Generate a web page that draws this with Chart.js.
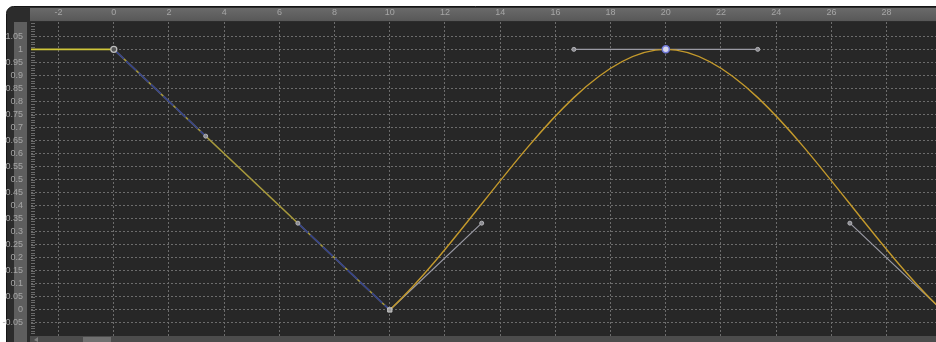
<!DOCTYPE html>
<html>
<head>
<meta charset="utf-8">
<script src="https://cdn.jsdelivr.net/npm/chart.js@4/dist/chart.umd.min.js"></script>
<style>
  html, body { margin: 0; padding: 0; background: #ffffff; overflow: hidden; }
  canvas { display: block; }
</style>
</head>
<body>
<canvas id="chart" width="936" height="342"></canvas>
<script>
// tick labels
const xTicks = [-2, 0, 2, 4, 6, 8, 10, 12, 14, 16, 18, 20, 22, 24, 26, 28];
const yTicks = [-0.05, 0, 0.05, 0.1, 0.15, 0.2, 0.25, 0.3, 0.35, 0.4, 0.45, 0.5,
	0.55, 0.6, 0.65, 0.7, 0.75, 0.8, 0.85, 0.9, 0.95, 1, 1.05];

// curve segments
const holdX = [-3, 0];
const holdY = [1, 1];
const linearX = [0, 10];
const linearY = [1, 0];
const easeX = [10, 20, 30];
const easeY = [0, 1, 0];

// keys and tangent handles
const keyX = [0, 10, 20];
const keyY = [1, 0, 1];
const handleX = [3.33, 6.67, 13.33, 16.67, 23.33, 26.67];
const handleY = [0.667, 0.333, 0.333, 1, 1, 0.333];
// tangent lines: [x1, y1, x2, y2]
const blueTangents = [[0, 1, 3.33, 0.667], [6.67, 0.333, 10, 0]];
const grayTangents = [[10, 0, 13.33, 0.333], [16.67, 1, 23.33, 1], [26.67, 0.333, 30, 0]];

const toPoints = (xs, ys) => xs.map((x, i) => ({ x, y: ys[i] }));
const segPoints = (segs) => {
	const pts = [];
	segs.forEach((s) => {
		pts.push({ x: s[0], y: s[1] }, { x: s[2], y: s[3] }, { x: s[2], y: null });
	});
	return pts;
};

const frame = {
	id: "frame",
	beforeDraw(chart) {
		const ctx = chart.ctx;
		const a = chart.chartArea;
		ctx.save();
		ctx.fillStyle = "#ffffff";
		ctx.fillRect(0, 0, chart.width, chart.height);
		// outer dark frame
		ctx.fillStyle = "#2c2c2c";
		ctx.strokeStyle = "#161616";
		ctx.beginPath();
		ctx.roundRect(6.5, 6.5, chart.width + 10, chart.height + 10, 7);
		ctx.fill();
		ctx.stroke();
		// top ruler
		const g = ctx.createLinearGradient(0, 8, 0, 21);
		g.addColorStop(0, "#6a6a6a");
		g.addColorStop(1, "#585858");
		ctx.fillStyle = g;
		ctx.fillRect(a.left - 1, 8, chart.width, 13);
		// left ruler
		ctx.fillStyle = "#5e5e5e";
		ctx.fillRect(14, a.top, 13, chart.height - a.top);
		// plot background
		ctx.fillStyle = "#272727";
		ctx.fillRect(a.left - 1, a.top, a.right - a.left + 1, a.bottom - a.top);
		// bottom scroll bar
		ctx.fillStyle = "#4c4c4c";
		ctx.fillRect(a.left - 1, a.bottom, chart.width, chart.height - a.bottom);
		ctx.fillStyle = "#707070";
		ctx.fillRect(83, a.bottom + 1, 28, chart.height - a.bottom);
		ctx.fillStyle = "#808080";
		ctx.beginPath();
		ctx.moveTo(34, a.bottom + 4);
		ctx.lineTo(38, a.bottom + 1);
		ctx.lineTo(38, a.bottom + 6);
		ctx.fill();
		ctx.restore();
	},
	beforeDatasetsDraw(chart) {
		// minor tick strip on the left edge
		const ctx = chart.ctx;
		const y = chart.scales.y;
		const a = chart.chartArea;
		ctx.save();
		ctx.strokeStyle = "#6a6a6a";
		ctx.lineWidth = 1;
		for (let v = -10; v <= 110; v++) {
			const py = Math.round(y.getPixelForValue(v / 100)) + 0.5;
			if (py < a.top || py > a.bottom) continue;
			ctx.beginPath();
			ctx.moveTo(a.left, py);
			ctx.lineTo(a.left + 4, py);
			ctx.stroke();
		}
		ctx.restore();
	},
};

const tickFont = { family: "Liberation Sans", size: 9 };
const noPad = (scale) => {
	scale.paddingLeft = 0;
	scale.paddingRight = 0;
	scale.paddingTop = 0;
	scale.paddingBottom = 0;
};

new Chart(document.getElementById("chart"), {
	type: "line",
	data: {
		datasets: [
			{
				// selected key
				data: [{ x: keyX[2], y: keyY[2] }],
				showLine: false,
				pointStyle: "circle",
				pointRadius: 3.5,
				pointBorderWidth: 1.5,
				pointBorderColor: "#6f78d8",
				pointBackgroundColor: "#d8d8ee",
			},
			{
				data: [{ x: keyX[1], y: keyY[1] }],
				showLine: false,
				pointStyle: "rect",
				pointRadius: 3,
				pointBorderWidth: 1,
				pointBorderColor: "#c8c8c8",
				pointBackgroundColor: "#9a9a9a",
			},
			{
				data: [{ x: keyX[0], y: keyY[0] }],
				showLine: false,
				pointStyle: "circle",
				pointRadius: 3,
				pointBorderWidth: 1.3,
				pointBorderColor: "#bdbdbd",
				pointBackgroundColor: "#555555",
			},
			{
				data: toPoints(handleX, handleY),
				showLine: false,
				pointStyle: "circle",
				pointRadius: 2,
				pointBorderWidth: 1,
				pointBorderColor: "#b4b4b8",
				pointBackgroundColor: "#8a8a90",
			},
			{
				data: segPoints(blueTangents),
				borderColor: "#34428c",
				borderWidth: 1.7,
				borderDash: [14, 3],
				pointRadius: 0,
				spanGaps: false,
			},
			{
				data: toPoints(easeX, easeY),
				borderColor: "#c49a2c",
				borderWidth: 1.4,
				cubicInterpolationMode: "monotone",
				pointRadius: 0,
			},
			{
				data: segPoints(grayTangents),
				borderColor: "#9a9aa4",
				borderWidth: 1.2,
				pointRadius: 0,
				spanGaps: false,
			},
			{
				data: toPoints(linearX, linearY),
				borderColor: "#a89a3c",
				borderWidth: 1.5,
				pointRadius: 0,
			},
			{
				data: toPoints(holdX, holdY),
				borderColor: "#cfc63a",
				borderWidth: 1.6,
				pointRadius: 0,
			},
		],
	},
	options: {
		responsive: false,
		animation: false,
		events: [],
		layout: { autoPadding: false, padding: { top: 0, left: 0, right: 0, bottom: 6 } },
		plugins: {
			legend: { display: false },
			tooltip: { enabled: false },
		},
		scales: {
			x: {
				type: "linear",
				position: "top",
				min: -3,
				max: 29.79,
				afterFit: (scale) => { scale.height = 22; noPad(scale); },
				afterBuildTicks: (scale) => {
					scale.ticks = xTicks.map((v) => ({ value: v }));
				},
				grid: { color: "#6c6c6c", drawTicks: false, lineWidth: 1 },
				border: { display: false, dash: [2, 2] },
				ticks: {
					color: "#a6a6a6",
					font: tickFont,
					padding: 4,
					maxRotation: 0,
					autoSkip: false,
					callback: (v) => String(v),
				},
			},
			y: {
				type: "linear",
				min: -0.1,
				max: 1.105,
				afterFit: (scale) => { scale.width = 31; noPad(scale); },
				afterBuildTicks: (scale) => {
					scale.ticks = yTicks.map((v) => ({ value: v }));
				},
				grid: { color: "#6c6c6c", drawTicks: false, lineWidth: 1 },
				border: { display: false, dash: [2, 2] },
				ticks: {
					color: "#a6a6a6",
					font: tickFont,
					padding: 8,
					autoSkip: false,
					callback: (v) => String(Math.round(v * 100) / 100),
				},
			},
		},
	},
	plugins: [frame],
});
</script>
</body>
</html>
